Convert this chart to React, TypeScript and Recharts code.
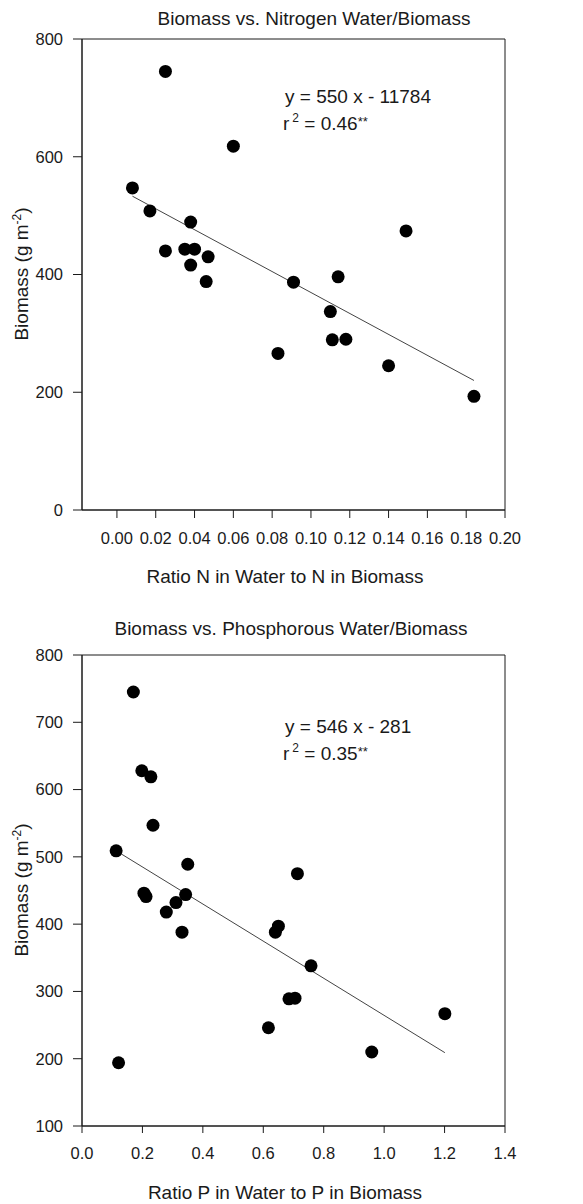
import React from 'react';
import {
  ScatterChart,
  Scatter,
  XAxis,
  YAxis,
  ReferenceLine,
  ReferenceArea,
  Customized
} from 'recharts';

const FONT = '"Liberation Sans", Arial, Helvetica, sans-serif';
const INK = '#1a1a1a';

// Nitrogen panel
const nRatio = [0.025, 0.060, 0.008, 0.017, 0.038, 0.025, 0.035, 0.040, 0.047, 0.038, 0.046, 0.091, 0.114, 0.149, 0.110, 0.111, 0.118, 0.083, 0.140, 0.184];
const nBiomass = [745, 618, 547, 508, 489, 440, 443, 443, 430, 416, 388, 387, 396, 474, 337, 289, 290, 266, 245, 193];
const nTicksX = [0, 0.02, 0.04, 0.06, 0.08, 0.1, 0.12, 0.14, 0.16, 0.18, 0.2];
const nTicksY = [0, 200, 400, 600, 800];
const nFitX = [0.008, 0.184];
const nFitY = [533, 220];

// Phosphorous panel
const pRatio = [0.170, 0.198, 0.228, 0.235, 0.113, 0.350, 0.713, 0.205, 0.212, 0.343, 0.311, 0.279, 0.331, 0.650, 0.640, 0.758, 0.685, 0.705, 0.617, 1.201, 0.959, 0.121];
const pBiomass = [745, 628, 619, 547, 509, 489, 475, 446, 441, 444, 432, 418, 388, 397, 388, 338, 289, 290, 246, 267, 210, 194];
const pTicksX = [0, 0.2, 0.4, 0.6, 0.8, 1.0, 1.2, 1.4];
const pTicksY = [100, 200, 300, 400, 500, 600, 700, 800];
const pFitX = [0.113, 1.201];
const pFitY = [509, 209];

const dot = (props: any) => <circle cx={props.cx} cy={props.cy} r={6.5} fill="#000" />;

interface PanelProps {
  top: number;
  height: number;
  marginTop: number;
  axisHeight: number;
  title: string;
  titleX: number;
  titleY: number;
  xLabel: string;
  xLabelY: number;
  yLabelY: number;
  eq: string;
  r2: string;
  eqY: number;
  xs: number[];
  ys: number[];
  fitX: number[];
  fitY: number[];
  xDomain: [number, number];
  yDomain: [number, number];
  xTicks: number[];
  yTicks: number[];
  digits: number;
  xTickSize: number;
}

function Panel(p: PanelProps) {
  const data = p.xs.map((x, i) => ({ x, y: p.ys[i] }));
  const tickStyle = { fill: INK, fontSize: 16.5, fontFamily: FONT };

  const texts = () => (
    <g fontFamily={FONT} fill={INK}>
      <text x={p.titleX} y={p.titleY} fontSize={19} textAnchor="middle">{p.title}</text>
      <text x={285} y={p.xLabelY} fontSize={19} textAnchor="middle">{p.xLabel}</text>
      <text x={28} y={p.yLabelY} fontSize={19} textAnchor="middle" transform={`rotate(-90, 28, ${p.yLabelY})`}>
        Biomass (g m<tspan fontSize={12} dy={-7}>-2</tspan><tspan dy={7}>)</tspan>
      </text>
      <text x={285} y={p.eqY} fontSize={19}>{p.eq}</text>
      <text x={283} y={p.eqY + 27} fontSize={19}>
        r<tspan fontSize={12} dy={-8} dx={3}>2</tspan>
        <tspan dy={8}> = {p.r2}</tspan>
        <tspan fontSize={13} dy={-4}>**</tspan>
      </text>
    </g>
  );

  return (
    <div style={{ position: 'absolute', left: 0, top: p.top }}>
      <ScatterChart
        width={583}
        height={p.height}
        margin={{ top: p.marginTop, right: 78, bottom: 0, left: 0 }}
      >
        <XAxis
          dataKey="x"
          type="number"
          domain={p.xDomain}
          ticks={p.xTicks}
          interval={0}
          allowDataOverflow
          tickFormatter={(v: number) => v.toFixed(p.digits)}
          tick={tickStyle}
          tickSize={p.xTickSize}
          tickMargin={14}
          stroke={INK}
          height={p.axisHeight}
        />
        <YAxis
          dataKey="y"
          type="number"
          domain={p.yDomain}
          ticks={p.yTicks}
          interval={0}
          allowDataOverflow
          tick={tickStyle}
          tickSize={9}
          tickMargin={10}
          stroke={INK}
          width={82}
        />
        <ReferenceArea
          x1={p.xDomain[0]}
          x2={p.xDomain[1]}
          y1={p.yDomain[0]}
          y2={p.yDomain[1]}
          fill="none"
          fillOpacity={0}
          stroke={INK}
          strokeWidth={1}
          ifOverflow="visible"
        />
        <ReferenceLine
          segment={[
            { x: p.fitX[0], y: p.fitY[0] },
            { x: p.fitX[1], y: p.fitY[1] }
          ]}
          stroke="#444"
          strokeWidth={1}
          ifOverflow="visible"
        />
        <Scatter data={data} shape={dot} isAnimationActive={false} />
        <Customized component={texts} />
      </ScatterChart>
    </div>
  );
}

export default function App() {
  return (
    <div style={{ position: 'absolute', left: 0, top: 0, width: 583, height: 1204, background: '#fff' }}>
      <Panel
        top={0}
        height={600}
        marginTop={39}
        axisHeight={90}
        title="Biomass vs. Nitrogen Water/Biomass"
        titleX={314}
        titleY={25}
        xLabel="Ratio N in Water to N in Biomass"
        xLabelY={583}
        yLabelY={274}
        eq="y = 550 x - 11784"
        r2="0.46"
        eqY={103}
        xs={nRatio}
        ys={nBiomass}
        fitX={nFitX}
        fitY={nFitY}
        xDomain={[-0.018, 0.2]}
        yDomain={[0, 800]}
        xTicks={nTicksX}
        yTicks={nTicksY}
        digits={2}
        xTickSize={8}
      />
      <Panel
        top={600}
        height={604}
        marginTop={55}
        axisHeight={78}
        title="Biomass vs. Phosphorous Water/Biomass"
        titleX={291}
        titleY={35}
        xLabel="Ratio P in Water to P in Biomass"
        xLabelY={599}
        yLabelY={290}
        eq="y = 546 x - 281"
        r2="0.35"
        eqY={133}
        xs={pRatio}
        ys={pBiomass}
        fitX={pFitX}
        fitY={pFitY}
        xDomain={[0, 1.4]}
        yDomain={[100, 800]}
        xTicks={pTicksX}
        yTicks={pTicksY}
        digits={1}
        xTickSize={7}
      />
    </div>
  );
}
